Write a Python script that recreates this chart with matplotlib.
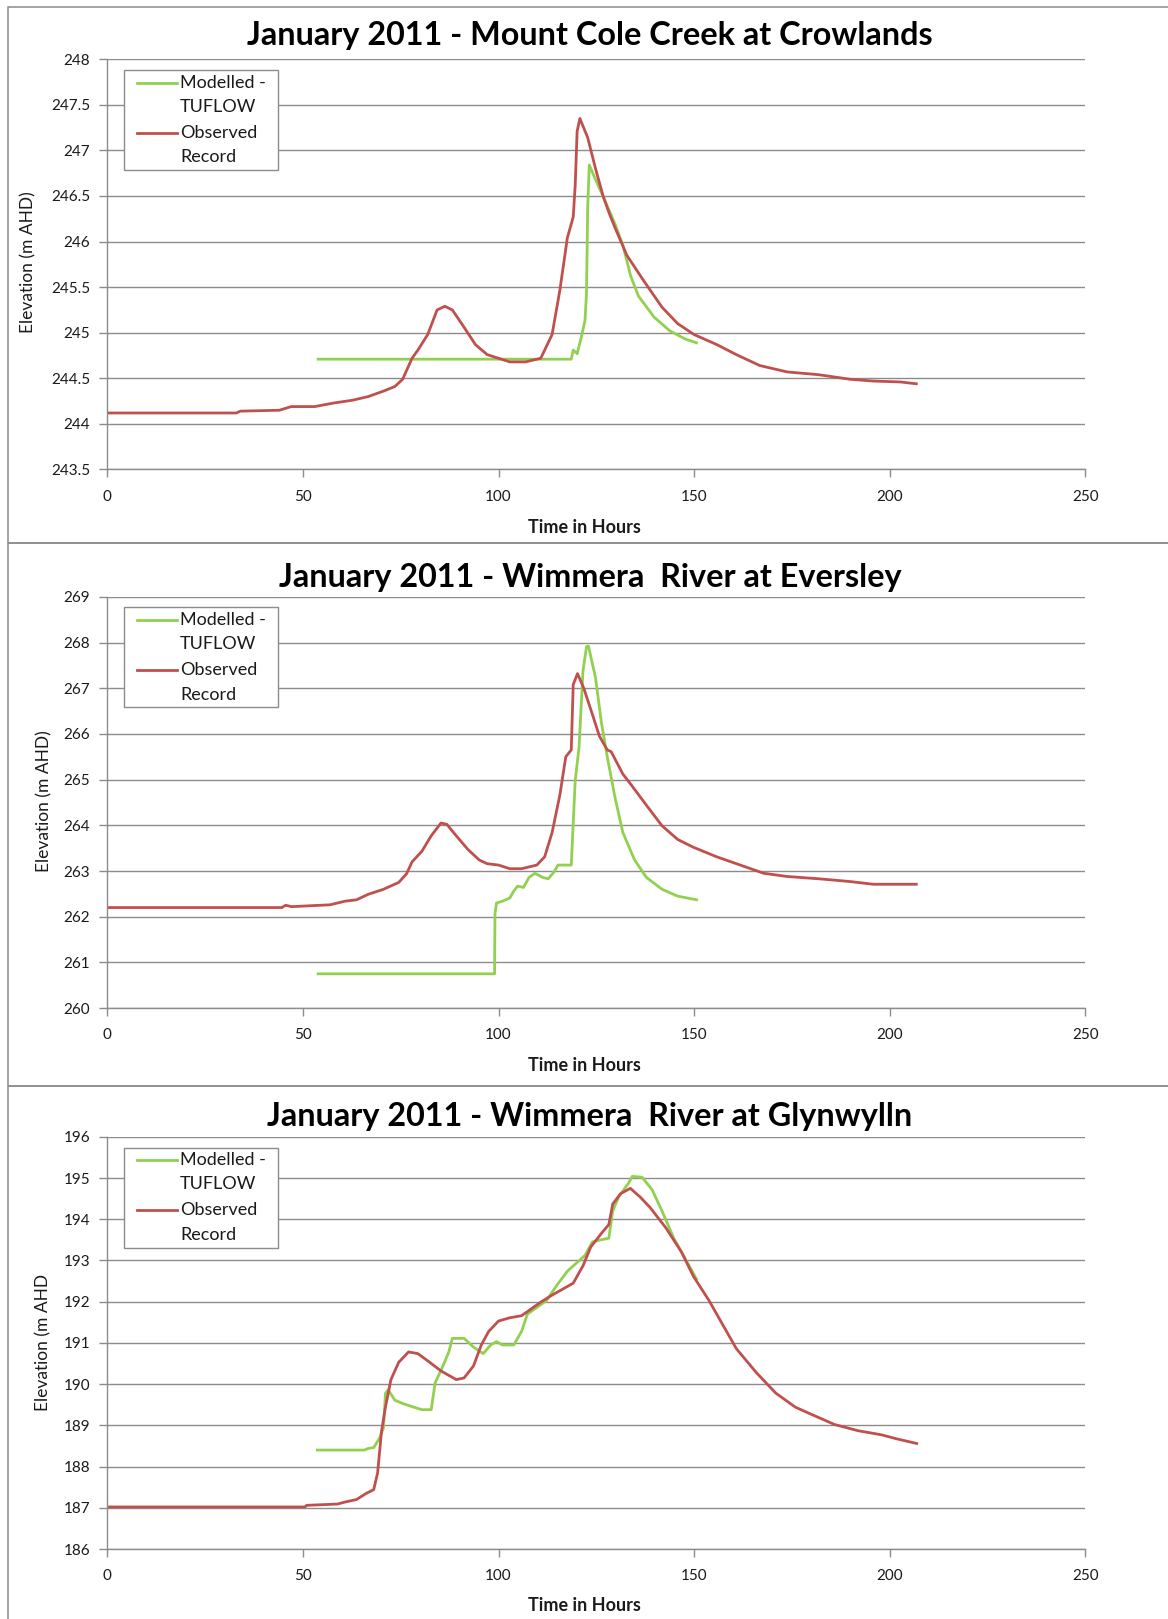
"""
January 2011 flood - modelled (TUFLOW) vs observed water levels
Three gauges stacked in one tall figure
"""

import matplotlib.pyplot as plt
from matplotlib.patches import Rectangle
from matplotlib.lines import Line2D

# ---- Mount Cole Creek at Crowlands ----
crowlands_model_t = [53.9, 118.6, 119.1, 120.1, 121.1, 122.1, 122.5, 122.8, 123.2, 124.8,
                     126.8, 129.8, 131.8, 133.8, 135.8, 139.8, 143.8, 147.8, 150.6]
crowlands_model_z = [244.71, 244.71, 244.81, 244.77, 244.94, 245.13, 245.44, 246.38, 246.84, 246.68,
                     246.49, 246.19, 245.96, 245.62, 245.40, 245.17, 245.02, 244.93, 244.89]
crowlands_obs_t = [0, 33, 34, 44, 47, 53, 58, 62.7, 66.7, 70.6, 73.5, 75.5, 77.9, 79.4, 81.9,
                   84.3, 86.3, 88.2, 91.2, 94.1, 97.1, 100, 102.9, 106.9, 110.8, 113.7, 115.7,
                   117.6, 119.1, 119.6, 120.1, 120.8, 122.8, 124.8, 126.8, 128.3, 129.8, 132.8,
                   136.8, 141.8, 145.8, 150, 155.8, 160.8, 166.8, 173.8, 181.8, 189.8, 195.8,
                   202.8, 206.8]
crowlands_obs_z = [244.12, 244.12, 244.14, 244.15, 244.19, 244.19, 244.23, 244.26, 244.30, 244.36,
                   244.41, 244.49, 244.72, 244.81, 244.98, 245.25, 245.29, 245.25, 245.06, 244.87,
                   244.76, 244.72, 244.68, 244.68, 244.72, 244.98, 245.47, 246.04, 246.27, 246.61,
                   247.21, 247.35, 247.14, 246.80, 246.49, 246.31, 246.15, 245.85, 245.59, 245.28,
                   245.10, 244.98, 244.87, 244.76, 244.64, 244.57, 244.54, 244.49, 244.47, 244.46,
                   244.44]

# ---- Wimmera River at Eversley ----
eversley_model_t = [53.9, 99.0, 99.1, 99.5, 101, 102.9, 103.9, 104.9, 106.4, 107.8, 109.3, 111.3,
                    112.7, 114.2, 115.2, 118.6, 119.6, 120.6, 121.6, 122.5, 123.0, 124.8, 126.3,
                    127.8, 129.8, 131.8, 134.8, 137.8, 141.8, 145.8, 150.6]
eversley_model_z = [260.75, 260.75, 262.07, 262.30, 262.34, 262.41, 262.56, 262.67, 262.64, 262.86,
                    262.95, 262.86, 262.83, 262.98, 263.13, 263.13, 264.97, 265.72, 267.38, 267.91,
                    267.92, 267.23, 266.25, 265.50, 264.60, 263.84, 263.24, 262.86, 262.60, 262.45,
                    262.37]
eversley_obs_t = [0, 44.6, 45.6, 47.1, 56.9, 60.8, 63.7, 66.7, 70.6, 74.5, 76.5, 77.9, 80.4, 82.8,
                  85.3, 86.8, 89.2, 92.2, 95.1, 97.1, 100, 102.9, 105.9, 109.8, 111.8, 113.7, 115.7,
                  117.2, 118.6, 119.1, 120.2, 121.8, 123.8, 125.8, 127.8, 128.8, 131.8, 133.8, 137.8,
                  141.8, 145.8, 149.8, 155.8, 161.8, 167.8, 173.8, 181.8, 189.8, 195.8, 206.8]
eversley_obs_z = [262.20, 262.20, 262.25, 262.22, 262.26, 262.34, 262.37, 262.49, 262.60, 262.75,
                  262.94, 263.20, 263.43, 263.77, 264.05, 264.02, 263.77, 263.47, 263.24, 263.16,
                  263.13, 263.05, 263.05, 263.13, 263.31, 263.84, 264.67, 265.50, 265.65, 267.08,
                  267.32, 267.00, 266.48, 265.95, 265.65, 265.61, 265.12, 264.90, 264.44, 263.99,
                  263.69, 263.52, 263.31, 263.13, 262.95, 262.88, 262.83, 262.77, 262.71, 262.71]

# ---- Wimmera River at Glynwylln ----
glynwylln_model_t = [53.7, 65.7, 66.7, 68.1, 69.6, 70.6, 71.1, 71.8, 73.5, 75.5, 78.4, 80.4, 82.8,
                     83.8, 85.8, 87.3, 88.2, 91.2, 93.6, 96.1, 98.0, 99.5, 101.0, 103.9, 105.9,
                     107.4, 109.8, 112.3, 114.7, 117.6, 119.6, 122.1, 124.0, 125.7, 128.2, 129.2,
                     130.7, 133.2, 134.2, 136.7, 139.3, 141.8, 144.8, 147.8, 150.6]
glynwylln_model_z = [188.40, 188.40, 188.44, 188.46, 188.69, 188.94, 189.78, 189.86, 189.61, 189.53,
                     189.44, 189.38, 189.38, 190.03, 190.44, 190.78, 191.11, 191.11, 190.90, 190.74,
                     190.95, 191.03, 190.95, 190.95, 191.28, 191.70, 191.86, 192.03, 192.37, 192.74,
                     192.91, 193.12, 193.45, 193.49, 193.54, 194.20, 194.54, 194.87, 195.04, 195.02,
                     194.71, 194.20, 193.54, 193.03, 192.55]
glynwylln_obs_t = [0, 50.5, 51, 58.8, 60.8, 63.7, 66.2, 68.1, 69.1, 70.1, 71.1, 72.5, 74.5, 77,
                   79.4, 82.4, 85.3, 89.2, 91.2, 93.6, 95.6, 97.5, 100, 102.9, 105.9, 108.3, 110.8,
                   113.7, 116.7, 119.1, 121.6, 123.6, 126.5, 128.2, 129.2, 131.2, 133.7, 136.2,
                   138.7, 142.8, 146.8, 149.8, 153.8, 157.8, 160.8, 165.9, 170.9, 175.9, 179.9,
                   185.9, 191.9, 197.9, 201.9, 206.9]
glynwylln_obs_z = [187.02, 187.02, 187.06, 187.09, 187.14, 187.20, 187.35, 187.44, 187.85, 188.86,
                   189.44, 190.11, 190.53, 190.78, 190.74, 190.53, 190.32, 190.11, 190.15, 190.44,
                   190.95, 191.28, 191.53, 191.61, 191.66, 191.82, 191.99, 192.16, 192.32, 192.45,
                   192.87, 193.33, 193.68, 193.87, 194.37, 194.62, 194.75, 194.54, 194.29, 193.79,
                   193.20, 192.62, 192.03, 191.36, 190.86, 190.28, 189.78, 189.44, 189.27, 189.02,
                   188.87, 188.77, 188.67, 188.56]

titles = ['January 2011 - Mount Cole Creek at Crowlands',
          'January 2011 - Wimmera  River at Eversley',
          'January 2011 - Wimmera  River at Glynwylln']
ylabels = ['Elevation (m AHD)', 'Elevation (m AHD)', 'Elevation (m AHD']
yticks = [[243.5 + 0.5 * i for i in range(10)],
          list(range(260, 270)),
          list(range(186, 197))]
xticks = [0, 50, 100, 150, 200, 250]
legend_labels = [('Modelled -', 'TUFLOW'), ('Observed', 'Record')]

GREEN = '#92D050'
RED = '#C0504D'
GREY = '#8C8C8C'

W, H = 1168, 1619
plt.rcParams['font.family'] = ['Lato', 'DejaVu Sans']

fig = plt.figure(figsize=(W / 100, H / 100), dpi=100)


def fx(px):
    return px / W


def fy(py):
    return 1 - py / H


# pixel layout of each chart block: border top/bottom, plot top/bottom,
# title centre, y-label centre (x, y)
layout = [
    dict(box=(7, 543.5), plot=(59.2, 469.5), title_y=36, ylab=(28.7, 262.6)),
    dict(box=(543.5, 1085.5), plot=(596.8, 1008.1), title_y=577.5, ylab=(44, 800.9)),
    dict(box=(1085.5, H + 10), plot=(1136.8, 1549), title_y=1116, ylab=(43.5, 1342.6)),
]
series = [
    (crowlands_model_t, crowlands_model_z, crowlands_obs_t, crowlands_obs_z),
    (eversley_model_t, eversley_model_z, eversley_obs_t, eversley_obs_z),
    (glynwylln_model_t, glynwylln_model_z, glynwylln_obs_t, glynwylln_obs_z),
]

PLOT_L, PLOT_R = 107.3, 1085.3

for i, lay in enumerate(layout):
    b_top, b_bot = lay['box']
    p_top, p_bot = lay['plot']

    # chart border
    fig.add_artist(Rectangle((fx(8), fy(b_bot)), fx(W + 20 - 8), (b_bot - b_top) / H,
                             transform=fig.transFigure, fill=False,
                             edgecolor=GREY, linewidth=1.1))

    ax = fig.add_axes([fx(PLOT_L), fy(p_bot), (PLOT_R - PLOT_L) / W, (p_bot - p_top) / H])
    mt, mz, ot, oz = series[i]
    ax.plot(mt, mz, color=GREEN, linewidth=2.0)
    ax.plot(ot, oz, color=RED, linewidth=2.0)

    ax.set_xlim(0, 250)
    ax.set_ylim(yticks[i][0], yticks[i][-1])
    ax.set_xticks(xticks)
    ax.set_yticks(yticks[i])
    ax.set_yticklabels([f'{v:g}' for v in yticks[i]])

    ax.yaxis.grid(True, color=GREY, linewidth=1.0)
    ax.set_axisbelow(True)
    for side in ['top', 'right']:
        ax.spines[side].set_visible(False)
    for side in ['left', 'bottom']:
        ax.spines[side].set_color(GREY)
        ax.spines[side].set_linewidth(1.0)
    ax.tick_params(direction='out', length=5.5, width=1.0, color=GREY,
                   labelsize=11, labelcolor='#1a1a1a')
    ax.tick_params(axis='y', pad=7)
    ax.tick_params(axis='x', pad=9)

    fig.text(fx(590), fy(lay['title_y']), titles[i], ha='center', va='center',
             fontsize=23.3, fontweight='bold')
    fig.text(fx(584), fy(p_top + 474), 'Time in Hours', ha='center', va='baseline',
             fontsize=13, fontweight='bold', color='#1a1a1a')
    fig.text(fx(lay['ylab'][0]), fy(lay['ylab'][1]), ylabels[i], rotation=90,
             ha='center', va='center', fontsize=12.5, color='#1a1a1a')

    # legend box
    lg_top = p_top + 10.7
    fig.add_artist(Rectangle((fx(124.4), fy(lg_top + 100)), (278.2 - 124.4) / W, 100 / H,
                             transform=fig.transFigure, facecolor='white',
                             edgecolor=GREY, linewidth=1.0))
    rows = [12.7, 36.8, 62.7, 87.5]
    for k, color in enumerate([GREEN, RED]):
        y0 = lg_top + rows[2 * k]
        fig.add_artist(Line2D([fx(137), fx(177)], [fy(y0), fy(y0)], color=color,
                              linewidth=2.0, transform=fig.transFigure))
        for j in range(2):
            fig.text(fx(180), fy(lg_top + rows[2 * k + j]), legend_labels[k][j],
                     ha='left', va='center', fontsize=13, color='#1a1a1a')

plt.savefig('out.png', dpi=100, facecolor='white')
plt.close()
